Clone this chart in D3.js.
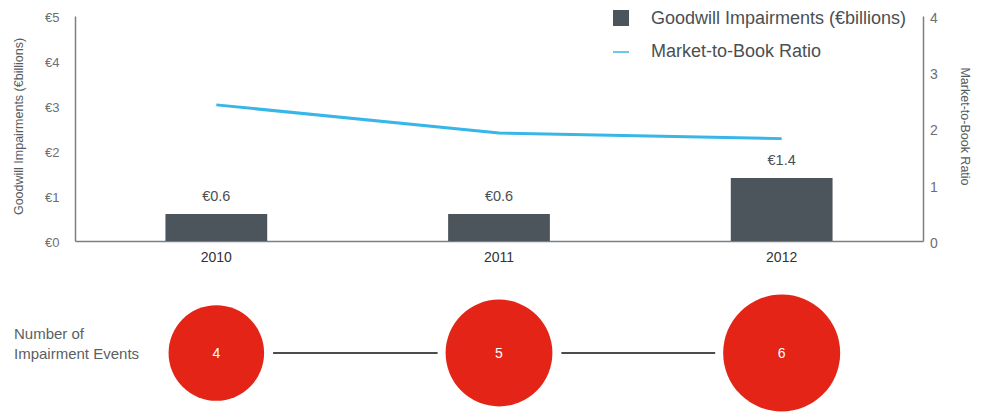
<!DOCTYPE html>
<html>
<head>
<meta charset="utf-8">
<script src="https://cdn.jsdelivr.net/npm/d3@7"></script>
<style>
  body { margin: 0; background: #fff; }
  svg { font-family: "Liberation Sans", Arial, sans-serif; }
</style>
</head>
<body>
<div id="chart"></div>
<script>
// chart data
var years = ["2010", "2011", "2012"];
var impairments = [0.6, 0.6, 1.4];
var marketToBook = [2.42, 1.92, 1.82];
var events = [4, 5, 6];
var leftTicks = [0, 1, 2, 3, 4, 5];
var rightTicks = [0, 1, 2, 3, 4];

var svgWidth = 986, svgHeight = 412;

var margin = { top: 16, left: 75, right: 63, bottom: 171 };
var width = svgWidth - margin.left - margin.right;
var height = svgHeight - margin.top - margin.bottom;

var svg = d3.select("#chart")
  .append("svg")
  .attr("width", svgWidth)
  .attr("height", svgHeight);

var g = svg.append("g")
  .attr("transform", `translate(${margin.left}, ${margin.top})`);

// scales
var xScale = d3.scaleBand()
  .domain(years)
  .range([0, width])
  .paddingInner(0.64)
  .paddingOuter(0.32);

var yLeft = d3.scaleLinear().domain([0, 5]).range([height, 0]);
var yRight = d3.scaleLinear().domain([0, 4]).range([height, 0]);

// left axis
var leftAxis = g.append("g")
  .call(d3.axisLeft(yLeft).tickValues(leftTicks).tickSize(0).tickFormat(d => "€" + d));
leftAxis.select(".domain").attr("stroke", "#7a7f84").attr("stroke-width", 1.5);
leftAxis.selectAll("text")
  .attr("x", -30)
  .attr("dy", "0.45em")
  .attr("text-anchor", "start")
  .attr("fill", "#6b7075")
  .style("font-size", "13px");

// right axis
var rightAxis = g.append("g")
  .attr("transform", `translate(${width}, 0)`)
  .call(d3.axisRight(yRight).tickValues(rightTicks).tickSize(0).tickFormat(d3.format("d")));
rightAxis.select(".domain").attr("stroke", "#7a7f84").attr("stroke-width", 1.5);
rightAxis.selectAll("text")
  .attr("x", 7)
  .attr("dy", "0.45em")
  .attr("fill", "#6b7075")
  .style("font-size", "14px");

// x axis
var xAxis = g.append("g")
  .attr("transform", `translate(0, ${height})`)
  .call(d3.axisBottom(xScale).tickSize(0).tickPadding(11));
xAxis.select(".domain").attr("stroke", "#7a7f84").attr("stroke-width", 1.5);
xAxis.selectAll("text")
  .attr("fill", "#333")
  .style("font-size", "14px");

// axis titles
g.append("text")
  .attr("transform", `translate(-52, ${height / 2 - 2}) rotate(-90)`)
  .attr("text-anchor", "middle")
  .attr("fill", "#555b60")
  .style("font-size", "12.5px")
  .text("Goodwill Impairments (€billions)");

g.append("text")
  .attr("transform", `translate(${width + 38}, ${height / 2 - 2}) rotate(90)`)
  .attr("text-anchor", "middle")
  .attr("fill", "#555b60")
  .style("font-size", "12.5px")
  .text("Market-to-Book Ratio");

// bars
g.selectAll(".bar")
  .data(impairments)
  .enter()
  .append("rect")
  .attr("class", "bar")
  .attr("x", (d, i) => xScale(years[i]))
  .attr("y", d => yLeft(d))
  .attr("width", xScale.bandwidth())
  .attr("height", d => height - yLeft(d))
  .attr("fill", "#4d555c");

g.selectAll(".barLabel")
  .data(impairments)
  .enter()
  .append("text")
  .attr("class", "barLabel")
  .attr("x", (d, i) => xScale(years[i]) + xScale.bandwidth() / 2)
  .attr("y", d => yLeft(d) - 13)
  .attr("text-anchor", "middle")
  .attr("fill", "#4a4f54")
  .style("font-size", "14.5px")
  .text(d => "€" + d.toFixed(1));

// market-to-book line
var line = d3.line()
  .x((d, i) => xScale(years[i]) + xScale.bandwidth() / 2)
  .y(d => yRight(d));

g.append("path")
  .datum(marketToBook)
  .attr("d", line)
  .attr("fill", "none")
  .attr("stroke", "#38b6e8")
  .attr("stroke-width", 3);

// legend
var legend = svg.append("g").attr("transform", "translate(613, 0)");
legend.append("rect")
  .attr("x", 0).attr("y", 10)
  .attr("width", 16).attr("height", 16)
  .attr("fill", "#4d555c");
legend.append("text")
  .attr("x", 38).attr("y", 24)
  .attr("fill", "#4a4f54")
  .style("font-size", "18px")
  .text("Goodwill Impairments (€billions)");
legend.append("line")
  .attr("x1", 0).attr("x2", 16)
  .attr("y1", 52).attr("y2", 52)
  .attr("stroke", "#38b6e8")
  .attr("stroke-width", 1.5);
legend.append("text")
  .attr("x", 38).attr("y", 57)
  .attr("fill", "#4a4f54")
  .style("font-size", "18px")
  .text("Market-to-Book Ratio");

// impairment events row
var rowY = 353;
var rScale = d3.scaleSqrt().domain([0, 6]).range([0, 58.5]);
var cx = (d, i) => margin.left + xScale(years[i]) + xScale.bandwidth() / 2;

svg.append("text")
  .attr("x", 14).attr("y", 339)
  .attr("fill", "#5a5f64")
  .style("font-size", "15px")
  .text("Number of");
svg.append("text")
  .attr("x", 14).attr("y", 359)
  .attr("fill", "#5a5f64")
  .style("font-size", "15px")
  .text("Impairment Events");

// connectors
for (var i = 0; i < events.length - 1; i++) {
  svg.append("line")
    .attr("x1", cx(events[i], i) + rScale(events[i]) + 9)
    .attr("x2", cx(events[i + 1], i + 1) - rScale(events[i + 1]) - 8)
    .attr("y1", rowY).attr("y2", rowY)
    .attr("stroke", "#111")
    .attr("stroke-width", 1.3);
}

svg.selectAll(".event")
  .data(events)
  .enter()
  .append("circle")
  .attr("class", "event")
  .attr("cx", cx)
  .attr("cy", rowY)
  .attr("r", d => rScale(d))
  .attr("fill", "#e32416");

svg.selectAll(".eventLabel")
  .data(events)
  .enter()
  .append("text")
  .attr("class", "eventLabel")
  .attr("x", cx)
  .attr("y", rowY + 5)
  .attr("text-anchor", "middle")
  .attr("fill", "#fff")
  .style("font-size", "14px")
  .text(d => d);
</script>
</body>
</html>
